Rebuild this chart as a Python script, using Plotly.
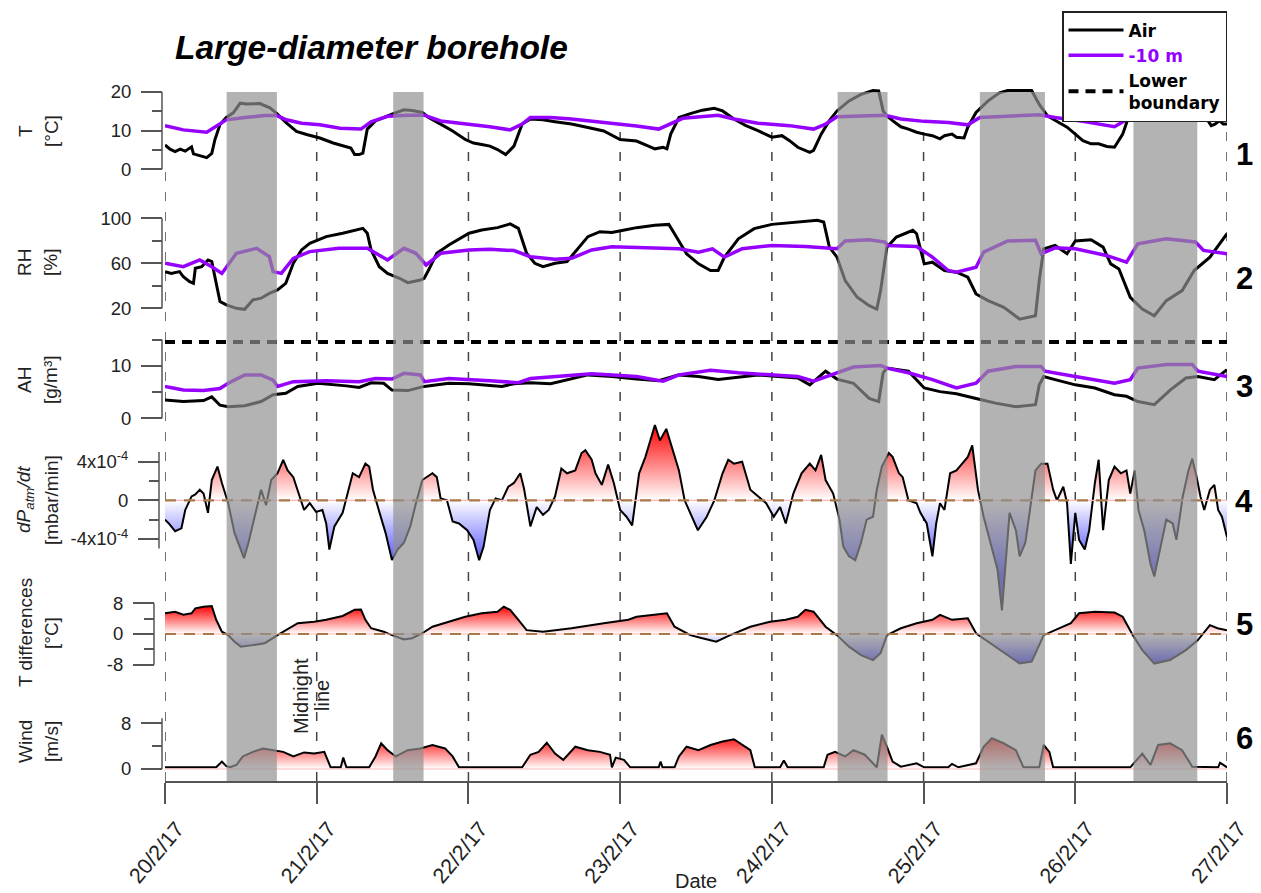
import numpy as np
import plotly.graph_objects as go
from datetime import datetime, timedelta

# ---------------------------------------------------------------- data
START = datetime(2017, 2, 20)
N_DAYS = 7
day_labels = ['20/2/17', '21/2/17', '22/2/17', '23/2/17', '24/2/17', '25/2/17', '26/2/17', '27/2/17']

# grey (daytime) periods, hours since 20/2/17 00:00
shade_start_h = [9.75, 36.1, 106.4, 128.9, 153.2]
shade_end_h = [17.7, 40.9, 114.3, 139.2, 163.3]

# Panel 1 : temperature [°C]
T_air_h = [0, 0.8, 1.6, 2.4, 3.2, 4.2, 4.5, 5.5, 6.6, 7.4,
           7.9, 8.7, 9.7, 10.8, 11.9, 12.9, 15.0, 16.6, 17.7, 19.2,
           20.8, 22.4, 24.5, 26.6, 28.1, 29.4, 30.0, 30.7, 31.3, 32.0,
           33.3, 34.6, 35.9, 37.8, 39.1, 40.7, 41.7, 43.6, 45.5, 47.5,
           48.8, 50.1, 51.4, 52.6, 53.9, 55.2, 56.5, 57.8, 59.8, 61.7,
           64.3, 66.9, 69.4, 72.0, 74.6, 76.2, 77.5, 78.8, 79.4, 80.0,
           81.3, 83.1, 85.0, 86.9, 88.2, 90.0, 91.9, 93.8, 95.1, 96.0,
           97.6, 98.8, 100.1, 101.3, 102.0, 102.6, 103.8, 105.1, 106.3, 108.2,
           110.1, 112.0, 112.9, 113.6, 114.2, 115.1, 116.4, 117.6, 118.9, 120.1,
           121.4, 122.6, 123.3, 124.5, 125.2, 126.4, 127.0, 128.3, 130.2, 132.0,
           133.3, 137.1, 138.3, 139.6, 140.8, 142.7, 144.0, 145.2, 146.5, 147.7,
           149.0, 150.2, 151.5, 152.4, 153.4, 155.5, 159.0, 163.0, 164.3, 165.5,
           166.1, 166.8, 167.4, 168.0]
T_air = [6.3, 5.2, 4.6, 5.2, 4.7, 5.8, 4.0, 3.6, 3.0, 4.1,
         7.7, 11.6, 13.4, 14.6, 17.1, 16.9, 17.0, 15.9, 14.4, 12.0,
         9.8, 9.0, 8.1, 6.8, 6.0, 5.5, 3.8, 3.8, 4.2, 10.4,
         12.5, 13.4, 14.3, 15.4, 15.2, 14.7, 13.4, 11.7, 9.9, 7.7,
         6.8, 6.4, 6.0, 5.1, 3.8, 6.0, 11.7, 13.0, 12.8, 12.3,
         11.7, 10.8, 9.9, 7.7, 7.3, 6.2, 5.3, 5.7, 5.3, 9.1,
         13.4, 14.4, 15.3, 15.8, 15.1, 13.0, 11.3, 10.0, 9.1, 8.3,
         8.7, 7.4, 5.7, 4.9, 4.4, 4.9, 9.1, 12.6, 15.1, 17.7,
         19.4, 20.4, 20.3, 15.1, 13.8, 12.6, 11.0, 10.4, 9.6, 9.1,
         8.7, 7.9, 8.7, 9.1, 8.3, 8.1, 10.9, 14.7, 17.7, 19.8,
         20.4, 20.4, 16.8, 13.8, 12.6, 10.9, 9.1, 7.4, 6.6, 6.6,
         5.9, 5.7, 9.1, 13.4, 16.0, 18.5, 19.4, 17.7, 14.3, 11.3,
         11.7, 12.6, 11.7, 11.7]
T_10m_h = [0, 2.9, 6.6, 8.7, 9.7, 12.6, 15.8, 17.7, 19.2, 21.6,
           24.5, 27.7, 31.0, 32.6, 35.2, 38.4, 41.0, 43.6, 48.1, 51.4,
           54.6, 56.5, 57.8, 61.0, 64.3, 67.5, 70.7, 74.6, 78.1, 80.0,
           81.9, 87.5, 90.0, 93.8, 98.8, 102.6, 104.5, 106.3, 110.1, 113.9,
           116.4, 120.1, 123.9, 127.0, 128.9, 133.3, 138.3, 140.8, 145.2, 150.2,
           152.7, 156.5, 163.0, 165.5, 168.0]
T_10m = [11.3, 10.2, 9.6, 11.9, 12.8, 13.4, 13.9, 13.9, 12.8, 11.9,
         11.5, 10.6, 10.4, 12.3, 13.7, 14.0, 14.0, 12.5, 11.7, 11.0,
         10.2, 11.7, 13.4, 13.4, 13.0, 12.5, 11.9, 11.2, 10.4, 11.7,
         13.2, 14.0, 13.0, 11.9, 11.3, 10.4, 11.7, 13.6, 13.8, 14.0,
         13.0, 12.4, 12.1, 11.5, 13.4, 13.8, 14.1, 13.4, 12.4, 11.0,
         13.4, 13.8, 14.3, 13.4, 13.0]

# Panel 2 : relative humidity [%]
RH_air_h = [0, 1.0, 2.3, 2.9, 3.9, 4.5, 4.8, 5.8, 6.8, 7.4,
            8.1, 8.7, 9.7, 11.3, 12.6, 13.9, 15.2, 16.5, 17.8, 19.1,
            20.3, 21.6, 22.9, 24.2, 25.5, 28.1, 30.0, 31.3, 32.0, 32.6,
            33.9, 35.2, 37.1, 38.4, 40.4, 41.0, 41.7, 43.0, 44.9, 46.8,
            48.1, 50.1, 52.6, 54.6, 55.9, 57.2, 58.5, 59.8, 61.7, 63.6,
            64.9, 66.9, 68.8, 70.7, 72.7, 74.6, 77.5, 79.7, 80.6, 82.5,
            84.4, 86.3, 87.5, 88.5, 90.7, 93.2, 96.0, 100.1, 103.2, 104.2,
            105.1, 106.3, 107.6, 109.5, 111.4, 112.6, 113.2, 114.2, 115.7, 118.3,
            118.9, 120.1, 121.4, 123.3, 125.2, 127.0, 128.3, 130.2, 132.7, 135.2,
            137.7, 138.3, 139.0, 140.8, 142.7, 144.0, 146.5, 148.4, 149.6, 150.9,
            152.7, 154.6, 156.5, 158.4, 160.9, 162.8, 165.3, 168.0]
RH_air = [52.6, 51.0, 52.6, 48.0, 43.7, 42.2, 55.6, 57.0, 63.0, 61.5,
          42.2, 26.0, 23.0, 20.0, 19.1, 27.4, 29.0, 33.3, 36.3, 42.2,
          60.0, 71.9, 77.8, 80.7, 83.7, 86.7, 89.6, 91.1, 86.7, 71.9,
          57.0, 51.0, 46.7, 42.8, 45.2, 46.7, 54.0, 68.9, 76.3, 82.2,
          86.7, 89.6, 91.7, 95.0, 91.1, 68.9, 60.0, 57.0, 60.0, 61.5,
          70.4, 83.7, 88.1, 87.3, 89.6, 91.7, 93.8, 94.6, 86.3, 68.5,
          59.5, 53.6, 53.6, 65.5, 81.8, 90.8, 94.6, 96.7, 98.2, 96.7,
          74.4, 65.5, 44.6, 29.8, 22.3, 19.3, 35.7, 74.4, 83.3, 89.3,
          86.3, 59.5, 61.0, 53.6, 52.1, 47.6, 32.7, 26.8, 20.8, 10.4,
          13.4, 44.6, 72.9, 75.9, 68.5, 79.8, 81.0, 74.4, 59.5, 55.0,
          29.8, 19.3, 13.4, 26.8, 35.7, 53.6, 65.5, 86.3]
RH_10m_h = [0, 2.9, 5.5, 7.4, 9.0, 11.3, 14.5, 16.5, 17.1, 18.4,
            20.3, 22.9, 27.5, 32.0, 35.2, 37.8, 39.7, 41.3, 43.6, 48.1,
            51.4, 55.2, 57.8, 61.7, 64.3, 67.5, 70.7, 75.0, 81.3, 84.4,
            86.6, 88.5, 91.3, 96.0, 101.3, 106.3, 107.6, 111.4, 113.9, 114.3,
            118.9, 121.4, 123.9, 125.2, 128.3, 129.5, 133.3, 137.7, 138.6, 140.8,
            144.0, 148.9, 152.1, 153.9, 158.4, 163.0, 164.3, 168.0]
RH_10m = [60.0, 57.0, 63.0, 57.0, 51.0, 68.9, 73.3, 65.9, 52.6, 51.0,
          64.4, 70.4, 73.3, 73.3, 63.0, 73.3, 68.9, 58.5, 68.9, 71.9,
          72.4, 71.3, 65.9, 63.6, 64.4, 71.9, 74.8, 73.8, 72.9, 69.9,
          72.9, 65.5, 72.9, 75.9, 75.0, 72.9, 79.8, 81.0, 78.9, 75.9,
          75.0, 65.5, 53.6, 52.1, 56.5, 69.9, 79.8, 80.4, 68.5, 73.8,
          72.9, 67.0, 61.0, 77.4, 81.8, 78.9, 71.4, 68.5]

# Panel 3 : absolute humidity [g/m3]
AH_air_h = [0, 2.9, 6.1, 7.4, 8.7, 10.0, 12.6, 15.2, 17.1, 19.1,
            21.0, 24.2, 28.7, 30.7, 32.6, 34.6, 35.9, 38.4, 41.0, 44.9,
            48.1, 53.3, 55.2, 57.8, 61.0, 64.3, 66.9, 70.7, 74.6, 78.1,
            81.3, 84.4, 87.5, 93.8, 100.1, 102.0, 104.5, 106.3, 108.9, 111.4,
            112.9, 113.6, 114.2, 117.6, 120.1, 122.6, 125.2, 128.3, 131.4, 134.6,
            137.7, 138.3, 139.0, 140.8, 144.0, 147.1, 150.2, 152.1, 153.9, 156.5,
            159.0, 161.5, 163.4, 166.0, 168.0]
AH_air = [3.5, 3.2, 3.4, 4.1, 2.5, 2.2, 2.4, 3.2, 4.5, 4.8,
          6.1, 6.7, 6.2, 5.9, 6.8, 6.7, 5.4, 5.3, 6.1, 6.7,
          6.6, 6.1, 6.6, 6.8, 6.6, 7.5, 8.3, 8.0, 7.5, 7.2,
          8.3, 8.0, 7.4, 8.3, 7.7, 6.4, 9.0, 7.5, 6.7, 3.8,
          3.2, 8.7, 9.6, 9.0, 5.8, 5.1, 4.7, 3.8, 2.9, 2.2,
          2.6, 6.4, 8.0, 7.4, 6.4, 5.8, 4.5, 4.2, 3.2, 2.6,
          5.4, 7.7, 8.0, 7.4, 9.3]
AH_10m_h = [0, 2.9, 6.1, 8.7, 10.0, 12.6, 15.2, 17.1, 17.8, 20.3,
            25.5, 30.7, 33.3, 35.9, 37.8, 40.4, 41.0, 44.9, 51.4, 55.9,
            57.8, 64.3, 67.5, 74.6, 78.8, 81.3, 86.3, 90.7, 96.0, 100.1,
            102.6, 106.3, 108.9, 113.2, 114.2, 117.6, 121.4, 125.2, 128.3, 130.2,
            134.6, 138.6, 139.2, 144.0, 150.2, 152.7, 153.9, 158.4, 162.5, 163.4,
            168.0]
AH_10m = [6.1, 5.4, 5.3, 5.7, 6.7, 8.3, 8.3, 7.3, 6.1, 7.0,
          7.2, 7.0, 7.6, 7.5, 8.6, 8.3, 7.0, 7.6, 7.2, 6.8,
          7.6, 8.1, 8.5, 8.0, 7.1, 8.3, 9.2, 8.7, 8.3, 8.0,
          7.1, 8.7, 9.8, 10.1, 9.6, 8.7, 7.4, 5.8, 6.7, 9.0,
          9.9, 9.9, 9.0, 8.0, 6.7, 7.4, 9.6, 10.3, 10.3, 9.0,
          8.0]
lower_boundary_AH = 14.6

# Panel 4 : dPatm/dt [mbar/min], stored in units of 1e-4
dpdt_h = [0, 0.6, 1.6, 2.6, 3.2, 4.2, 4.8, 5.5, 6.1, 6.8,
          7.4, 8.3, 9.0, 10.0, 11.0, 12.0, 12.5, 13.2, 14.2, 15.2,
          16.0, 16.8, 17.8, 18.7, 19.4, 20.3, 21.3, 22.0, 22.9, 23.9,
          24.9, 25.5, 26.0, 26.8, 28.1, 29.1, 29.7, 30.7, 31.7, 32.3,
          32.9, 33.9, 34.9, 35.9, 36.8, 37.8, 38.8, 39.7, 40.7, 42.3,
          43.0, 43.6, 44.6, 45.5, 46.5, 47.8, 48.8, 49.7, 50.4, 51.4,
          52.3, 53.3, 54.3, 55.2, 56.2, 56.8, 57.8, 58.8, 59.8, 60.7,
          61.7, 62.7, 63.6, 64.9, 65.9, 66.5, 67.5, 68.1, 69.1, 70.1,
          71.0, 72.0, 73.0, 73.9, 75.0, 76.0, 76.9, 77.5, 78.3, 79.3,
          80.0, 81.3, 82.2, 83.1, 84.3, 85.7, 86.9, 88.2, 89.1, 90.0,
          91.3, 92.6, 93.8, 95.1, 96.3, 97.3, 98.2, 99.4, 100.7, 102.0,
          102.9, 103.8, 104.5, 105.7, 106.7, 107.3, 108.2, 109.2, 110.1, 111.0,
          112.0, 112.6, 113.4, 114.5, 115.1, 116.1, 116.7, 117.6, 118.9, 119.5,
          120.5, 121.4, 122.0, 122.6, 123.3, 124.2, 125.2, 126.1, 127.0, 127.7,
          128.6, 129.5, 130.8, 131.7, 132.4, 132.8, 133.6, 134.6, 135.2, 136.1,
          137.1, 137.7, 138.6, 139.6, 140.5, 141.1, 142.1, 142.7, 143.3, 144.0,
          144.6, 145.5, 146.2, 147.1, 147.7, 148.4, 149.3, 150.2, 151.2, 152.1,
          152.7, 153.4, 154.0, 154.9, 155.9, 156.5, 157.5, 158.4, 159.4, 160.0,
          161.0, 161.9, 162.5, 163.2, 163.8, 164.4, 165.3, 166.0, 166.6, 167.2,
          168.0]
dpdt_e4 = [-2.0, -2.4, -3.2, -2.9, -1.0, 0.4, 0.6, 1.1, 0.7, -1.3,
           2.1, 3.5, 1.8, -0.3, -3.4, -5.1, -6.0, -4.4, -1.7, 1.1,
           -0.5, 2.1, 2.8, 4.2, 3.1, 2.4, 0.4, -1.0, -0.3, -1.2,
           -1.0, -2.4, -5.1, -2.7, -1.3, 1.1, 2.8, 2.4, 3.8, 3.5,
           1.1, -1.2, -3.4, -6.2, -5.1, -4.4, -2.7, -0.3, 2.1, 2.8,
           2.4, 0.2, 0.0, -2.2, -2.4, -3.1, -4.1, -6.2, -4.8, -1.0,
           0.2, 0.0, 1.4, 1.8, 2.8, 1.2, -2.7, -0.7, -1.5, -1.0,
           0.4, 3.3, 2.8, 3.1, 4.9, 5.2, 4.2, 2.8, 1.6, 3.7,
           1.8, -1.0, -1.7, -2.6, 2.8, 4.5, 6.6, 7.8, 6.2, 7.4,
           5.9, 3.1, 0.0, -1.3, -3.1, -1.7, 0.0, 2.8, 4.2, 3.8,
           4.0, 1.1, 0.4, -0.3, -1.7, -0.7, -2.4, 0.7, 2.8, 3.8,
           3.1, 4.7, 2.1, 0.7, -2.0, -4.8, -5.8, -6.2, -4.4, -2.0,
           -1.7, 1.1, 3.5, 4.9, 4.5, 2.8, 2.4, 0.0, -0.3, -1.3,
           -2.4, -5.8, -2.4, -0.3, -1.0, 2.8, 3.1, 3.8, 4.5, 5.7,
           1.1, -1.7, -4.8, -7.2, -11.4, -8.2, -1.3, -3.1, -5.8, -4.4,
           0.4, 3.1, 3.8, 3.8, 1.1, 0.0, 1.4, -0.3, -6.6, -1.3,
           -4.1, -5.1, -3.1, 1.8, 4.2, -3.1, 2.1, 3.5, 2.8, 3.1,
           0.7, 3.1, -1.0, -3.1, -6.6, -7.9, -4.8, -2.0, -2.4, -4.1,
           0.4, 3.1, 4.3, 2.4, 0.4, -1.0, 1.1, 1.6, -1.0, -1.7,
           -3.8]

# Panel 5 : temperature difference [°C]
Tdiff_h = [0, 1.6, 2.9, 4.2, 4.8, 6.1, 7.4, 8.1, 9.0, 10.0,
           11.0, 12.0, 13.9, 15.8, 17.8, 19.1, 21.0, 23.6, 25.5, 28.1,
           30.0, 31.0, 31.7, 32.6, 34.6, 35.9, 37.8, 39.1, 40.7, 42.3,
           44.9, 47.5, 50.1, 52.6, 53.6, 54.6, 55.9, 57.2, 59.8, 64.3,
           69.4, 73.3, 74.6, 77.5, 79.4, 80.6, 83.1, 85.0, 87.2, 89.4,
           92.6, 95.7, 98.2, 100.1, 101.3, 102.6, 104.5, 106.3, 108.2, 110.1,
           112.0, 113.2, 114.2, 116.4, 118.9, 121.4, 122.6, 124.5, 127.0, 128.3,
           130.2, 132.7, 135.2, 137.1, 139.0, 140.8, 143.3, 144.6, 147.1, 150.2,
           151.5, 153.1, 154.6, 156.5, 159.0, 161.5, 163.4, 165.3, 166.5, 168.0]
Tdiff = [5.4, 5.8, 5.0, 5.4, 6.7, 7.1, 7.3, 3.7, 0.6, -0.3,
         -2.0, -3.3, -2.9, -2.4, -0.3, 1.0, 2.8, 3.2, 3.7, 4.7,
         6.3, 6.4, 3.7, 1.5, 0.6, -0.3, -1.4, -1.1, 0.2, 1.9,
         3.2, 4.5, 5.4, 5.8, 7.1, 6.3, 3.7, 1.0, 0.6, 1.5,
         2.8, 3.7, 4.5, 5.0, 5.4, 1.9, -0.3, -1.1, -2.0, -0.3,
         1.9, 3.2, 3.7, 4.5, 6.3, 5.8, 1.9, -0.3, -3.3, -5.5,
         -6.8, -5.0, -0.3, 1.5, 2.8, 3.7, 5.0, 3.7, 4.1, 0.2,
         -2.0, -5.0, -7.7, -7.2, -0.3, 1.0, 2.8, 5.4, 5.8, 5.6,
         4.5, -0.3, -4.2, -7.7, -6.8, -4.2, -1.6, 2.3, 1.5, 1.0]

# Panel 6 : wind speed [m/s]
wind_h = [0, 8.1, 9.0, 9.7, 10.3, 11.3, 12.3, 13.9, 15.5, 17.1,
          18.7, 20.3, 22.0, 23.6, 25.2, 26.2, 27.8, 28.2, 28.7, 32.3,
          33.3, 34.2, 35.2, 36.5, 38.4, 40.4, 42.3, 44.3, 45.5, 46.5,
          56.5, 57.8, 59.1, 60.4, 61.7, 63.0, 64.9, 66.9, 68.8, 70.4,
          70.7, 71.3, 72.6, 73.6, 78.1, 78.4, 78.7, 80.6, 81.3, 82.5,
          84.4, 86.3, 88.2, 90.0, 91.3, 92.6, 93.3, 97.3, 97.9, 98.5,
          104.2, 104.8, 106.0, 107.6, 108.9, 110.7, 112.6, 113.4, 114.2, 115.1,
          116.4, 118.9, 120.1, 123.9, 124.5, 125.5, 128.3, 129.5, 130.8, 132.7,
          134.6, 135.8, 138.3, 139.0, 139.9, 140.5, 152.7, 154.6, 155.9, 157.1,
          159.0, 160.9, 162.5, 166.6, 166.9, 168.0]
wind = [0.3, 0.3, 1.3, 0.5, 0.3, 0.7, 2.2, 3.0, 3.6, 3.3,
        3.0, 2.2, 2.9, 2.7, 3.0, 0.3, 0.3, 2.0, 0.3, 0.3,
        2.2, 4.5, 3.3, 2.2, 3.3, 3.6, 4.2, 3.6, 2.2, 0.3,
        0.3, 2.5, 3.0, 4.6, 2.7, 1.6, 3.9, 3.3, 3.0, 2.5,
        0.3, 2.0, 1.6, 0.3, 0.3, 1.3, 0.3, 0.3, 2.2, 3.9,
        3.3, 4.2, 4.8, 5.2, 4.2, 3.3, 0.3, 0.3, 1.5, 0.3,
        0.3, 2.5, 3.0, 2.2, 3.3, 2.5, 0.3, 6.0, 3.9, 1.3,
        0.4, 1.0, 0.3, 0.3, 0.9, 0.3, 1.0, 3.9, 5.4, 4.5,
        3.3, 0.3, 0.3, 4.2, 3.0, 0.3, 0.3, 2.7, 0.7, 4.2,
        4.5, 3.3, 0.4, 0.3, 1.1, 0.3]

series = [(T_air_h, T_air), (T_10m_h, T_10m), (RH_air_h, RH_air), (RH_10m_h, RH_10m),
          (AH_air_h, AH_air), (AH_10m_h, AH_10m), (dpdt_h, dpdt_e4), (Tdiff_h, Tdiff), (wind_h, wind)]
for hh, vv in series:
    assert len(hh) == len(vv), (len(hh), len(vv))

# ---------------------------------------------------------------- style / layout helpers
W, H = 1261, 893
FONT = 'Liberation Sans, Arial, Helvetica, sans-serif'
WIDE = 'DejaVu Sans, Verdana, sans-serif'
BLACK = '#000000'
PURPLE = '#9600ff'
AXC = '#555555'
END = START + timedelta(days=N_DAYS)


def yp(px):
    return 1 - px / H


def xp(px):
    return px / W


def tt(hours):
    return [START + timedelta(hours=float(h)) for h in hours]


def make_yaxis(v1, p1, v2, p2, top, bot, major, labels, minor, axis_px):
    k = (v2 - v1) / (p2 - p1)
    rng = [v1 + (bot - p1) * k, v1 + (top - p1) * k]
    return dict(domain=[yp(bot), yp(top)], range=rng, anchor='free', position=xp(axis_px), side='left',
                showline=False, zeroline=False, showgrid=False, automargin=False,
                ticks='outside', ticklen=21, tickwidth=1.5, tickcolor=AXC,
                tickmode='array', tickvals=major, ticktext=labels,
                minor=dict(tickmode='array', tickvals=minor, ticks='outside', ticklen=10,
                           tickwidth=1.5, tickcolor=AXC, showgrid=False),
                tickfont=dict(family=FONT, size=18.5, color='#222222'),
                ticklabelstandoff=6, fixedrange=True)


# value/pixel calibration per panel
yaxes = {
    'yaxis':  make_yaxis(0, 169.3, 20, 92, 84, 176, [0, 10, 20], ['0', '10', '20'], [5, 15], 162),
    'yaxis2': make_yaxis(20, 308.3, 100, 218.3, 200, 330, [20, 60, 100], ['20', '60', '100'], [40, 80], 162),
    'yaxis3': make_yaxis(0, 418.3, 10, 366, 330, 428, [0, 10], ['0', '10'], [5, 15], 162),
    'yaxis4': make_yaxis(0, 500.3, 4e-4, 461.7, 415, 620, [-4e-4, 0, 4e-4],
                         ['-4x10<sup>-4</sup>', '0', '4x10<sup>-4</sup>'], [-2e-4, 2e-4], 159),
    'yaxis5': make_yaxis(0, 634, 8, 603.3, 590, 680, [-8, 0, 8], ['-8', '0', '8'], [-4, 4], 154),
    'yaxis6': make_yaxis(0, 769, 8, 723.3, 705, 781, [0, 8], ['0', '8'], [4], 162),
}
# extent of the drawn y-axis spines (data units)
spines = [('y', 0, 20, 162), ('y2', 20, 100, 162), ('y3', 0, 15, 162),
          ('y4', -5e-4, 5e-4, 159), ('y5', -8, 8, 154), ('y6', 0, 8.9, 162)]

fig = go.Figure()


def line(x, y, yaxis, color, width, name=None, legend=False, dash=None):
    fig.add_trace(go.Scatter(x=x, y=y, yaxis=yaxis, xaxis='x', mode='lines', name=name,
                             line=dict(color=color, width=width, dash=dash),
                             showlegend=legend, hoverinfo='skip'))


# Panel 1
line(tt(T_air_h), T_air, 'y', BLACK, 3, '<b>Air</b>', True)
line(tt(T_10m_h), T_10m, 'y', PURPLE, 3.5, "<b><span style='color:%s'>-10 m</span></b>" % PURPLE, True)
# Panel 3 lower boundary (for legend order)
line([START, END], [lower_boundary_AH] * 2, 'y3', BLACK, 4, '<b>Lower<br>boundary</b>', True, '10px,7px')
# Panel 2
line(tt(RH_air_h), RH_air, 'y2', BLACK, 3)
line(tt(RH_10m_h), RH_10m, 'y2', PURPLE, 3.5)
# Panel 3
line(tt(AH_air_h), AH_air, 'y3', BLACK, 3)
line(tt(AH_10m_h), AH_10m, 'y3', PURPLE, 3.5)


def grad_area(hours, vals, yaxis, lo, hi, blue):
    if lo < 0:
        z = (0 - lo) / (hi - lo)
        cs = [[0, blue], [z, 'white'], [1, 'rgb(255,0,0)']]
    else:
        cs = [[0, 'white'], [1, 'rgb(255,0,0)']]
    fig.add_trace(go.Scatter(x=tt(hours), y=vals, yaxis=yaxis, xaxis='x', mode='lines',
                             line=dict(color=BLACK, width=2), fill='tozeroy',
                             fillgradient=dict(type='vertical', start=lo, stop=hi, colorscale=cs),
                             showlegend=False, hoverinfo='skip'))


dpdt = list(np.array(dpdt_e4) * 1e-4)
grad_area(dpdt_h, dpdt, 'y4', -8e-4, max(dpdt), 'rgb(40,40,255)')
grad_area(Tdiff_h, Tdiff, 'y5', min(Tdiff), max(Tdiff), 'rgb(30,30,245)')
grad_area(wind_h, wind, 'y6', 0, max(wind), None)

for ax in ['y4', 'y5', 'y6']:
    line([START, END], [0, 0], ax, '#ffb8b8', 1.2)
for ax in ['y4', 'y5']:
    line([START, END], [0, 0], ax, '#a87848', 2.2, dash='11px,8px')

# ---------------------------------------------------------------- shapes
shapes = []
for ax, lo, hi, px in spines:
    shapes.append(dict(type='line', xref='paper', yref=ax, x0=xp(px), x1=xp(px), y0=lo, y1=hi,
                       line=dict(color=AXC, width=1.5), layer='above'))
MIDNIGHT_TOP_PX = [165] + [124] * N_DAYS
for d in range(N_DAYS + 1):
    shapes.append(dict(type='line', xref='x', yref='paper', x0=START + timedelta(days=d),
                       x1=START + timedelta(days=d), y0=yp(781), y1=yp(MIDNIGHT_TOP_PX[d]),
                       line=dict(color='#444444', width=1.5, dash='9px,11px'), layer='below'))
for s, e in zip(shade_start_h, shade_end_h):
    shapes.append(dict(type='rect', xref='x', yref='paper', x0=START + timedelta(hours=s),
                       x1=START + timedelta(hours=e), y0=yp(781), y1=yp(92),
                       fillcolor='rgba(145,145,145,0.69)', line=dict(width=0), layer='above'))

# ---------------------------------------------------------------- annotations
ann = []


def text(t, xpx, ypx, size, angle=0, xanchor='center', color='#222222', family=FONT):
    ann.append(dict(text=t, x=xp(xpx), y=yp(ypx), xref='paper', yref='paper', showarrow=False,
                    xanchor=xanchor, yanchor='middle', textangle=angle, align='center',
                    font=dict(family=family, size=size, color=color)))


text('<b><i>Large-diameter borehole</i></b>', 173, 48, 33.5, xanchor='left', color='black')
for t1, t2, yc in [('T', '[°C]', 131), ('RH', '[%]', 263), ('AH', '[g/m³]', 380),
                   ('<i>dP<sub>atm</sub>/dt</i>', '[mbar/min]', 500), ('T differences', '[°C]', 633),
                   ('Wind', '[m/s]', 742)]:
    text(t1, 25, yc, 19, angle=-90)
    text(t2, 51, yc, 19, angle=-90)
for t, yc in [('1', 154), ('2', 278), ('3', 386), ('4', 502), ('5', 624), ('6', 738)]:
    text('<b>%s</b>' % t, 1244, yc, 31, color='black')
text('Midnight', 301, 696, 20, angle=-90)
text('line', 322, 696, 20, angle=-90)
text('Date', 696, 881, 20)

fig.update_layout(
    width=W, height=H, margin=dict(l=0, r=0, t=0, b=0, autoexpand=False),
    paper_bgcolor='white', plot_bgcolor='rgba(0,0,0,0)',
    font=dict(family=FONT, color='#222222'),
    xaxis=dict(domain=[xp(165), xp(1227)], range=[START, END], anchor='y6', automargin=False,
               showline=True, linecolor=AXC, linewidth=1.5, showgrid=False, zeroline=False,
               ticks='outside', ticklen=21, tickwidth=1.5, tickcolor=AXC,
               tickmode='array', tickvals=[START + timedelta(days=d) for d in range(N_DAYS + 1)],
               ticktext=day_labels, tickangle=-50, ticklabelshift=12, ticklabelstandoff=4,
               tickfont=dict(family=FONT, size=21.5, color='#222222'), fixedrange=True),
    showlegend=True,
    legend=dict(x=xp(1227), xanchor='right', y=yp(11), yanchor='top', bgcolor='white',
                bordercolor='#222222', borderwidth=1.5, font=dict(family=WIDE, size=17, color='black'),
                itemwidth=55, tracegroupgap=0, traceorder='normal'),
    shapes=shapes, annotations=ann,
    **yaxes,
)

fig.write_html('out.html')
